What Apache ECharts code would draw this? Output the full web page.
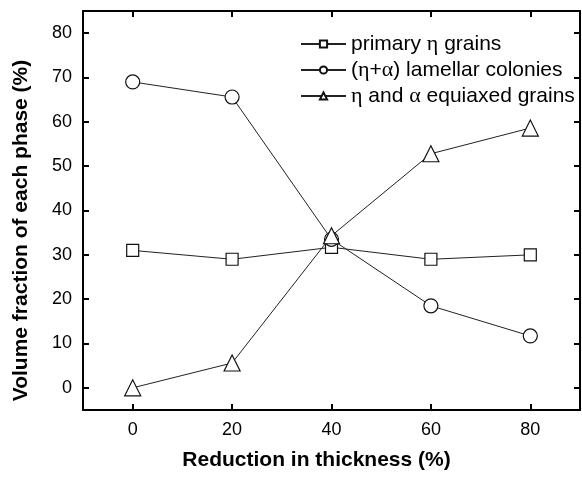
<!DOCTYPE html>
<html>
<head>
<meta charset="utf-8">
<script src="https://cdn.jsdelivr.net/npm/echarts@6/dist/echarts.min.js"></script>
<style>
html, body { margin: 0; padding: 0; background: #fff; }
#chart { width: 582px; height: 480px; }
</style>
</head>
<body>
<div id="chart"></div>
<script>
var reduction = [0, 20, 40, 60, 80];
var primaryEta = [31, 29, 31.7, 29, 30];
var lamellar = [69, 65.6, 33.5, 18.5, 11.7];
var equiaxed = [0, 5.6, 34.3, 52.8, 58.6];
var xTicks = [0, 20, 40, 60, 80];
var yTicks = [0, 10, 20, 30, 40, 50, 60, 70, 80];
var names = ['primary η grains', '(η+α) lamellar colonies', 'η and α equiaxed grains'];

var font = 'Liberation Sans, Arial, Helvetica, sans-serif';
var chart = echarts.init(document.getElementById('chart'));

function pairs(vals) {
	return reduction.map(function(x, i) { return [x, vals[i]]; });
}

function mkSeries(name, vals, symbol, size) {
	return {
		name : name,
		type : 'line',
		data : pairs(vals),
		symbol : symbol,
		symbolSize : size,
		showAllSymbol : true,
		animation : false,
		lineStyle : { color : '#222', width : 1 },
		itemStyle : { color : '#fff', borderColor : '#111', borderWidth : 1.2 }
	};
}

function ticks(vals) {
	return { inside : true, length : 6, customValues : vals, lineStyle : { color : '#000', width : 2 } };
}

var axisLine = { onZero : false, lineStyle : { color : '#000', width : 2 } };
var labelStyle = { margin : 11, fontFamily : font, fontSize : 18, color : '#000' };
var nameStyle = { fontFamily : font, fontSize : 21, fontWeight : 'bold', color : '#000' };

chart.setOption({
	backgroundColor : '#fff',
	animation : false,
	grid : { left : 83, right : 2, top : 11, bottom : 70 },
	legend : {
		orient : 'vertical',
		left : 300,
		top : 33,
		padding : 0,
		itemGap : 4,
		itemWidth : 45,
		itemHeight : 9,
		data : names,
		formatter : function(n) {
			return n.replace(/η/g, '{g|η}').replace(/α/g, '{g|α}');
		},
		textStyle : {
			fontFamily : font,
			fontSize : 21,
			color : '#000',
			rich : {
				g : { fontFamily : 'Liberation Serif, DejaVu Serif, serif', fontSize : 22, color : '#000' }
			}
		}
	},
	xAxis : [ {
		type : 'value', min : -10, max : 90, position : 'bottom',
		axisLine : axisLine, splitLine : { show : false },
		axisTick : ticks(xTicks),
		axisLabel : Object.assign({ customValues : xTicks }, labelStyle),
		name : 'Reduction in thickness (%)',
		nameLocation : 'middle',
		nameGap : 40,
		nameTextStyle : Object.assign({ padding : [0, 30, 0, 0] }, nameStyle)
	}, {
		type : 'value', min : -10, max : 90, position : 'top',
		axisLine : axisLine, splitLine : { show : false },
		axisTick : ticks(xTicks),
		axisLabel : { show : false }
	} ],
	yAxis : [ {
		type : 'value', min : -5, max : 85, position : 'left',
		axisLine : axisLine, splitLine : { show : false },
		axisTick : ticks(yTicks),
		axisLabel : Object.assign({ customValues : yTicks }, labelStyle),
		name : 'Volume fraction of each phase (%)',
		nameLocation : 'middle',
		nameGap : 51,
		nameTextStyle : Object.assign({ padding : [0, 40, 0, 0] }, nameStyle)
	}, {
		type : 'value', min : -5, max : 85, position : 'right',
		axisLine : axisLine, splitLine : { show : false },
		axisTick : ticks(yTicks),
		axisLabel : { show : false }
	} ],
	series : [
		mkSeries(names[0], primaryEta, 'rect', 12),
		mkSeries(names[1], lamellar, 'circle', 14),
		mkSeries(names[2], equiaxed, 'triangle', 16)
	]
});
</script>
</body>
</html>
